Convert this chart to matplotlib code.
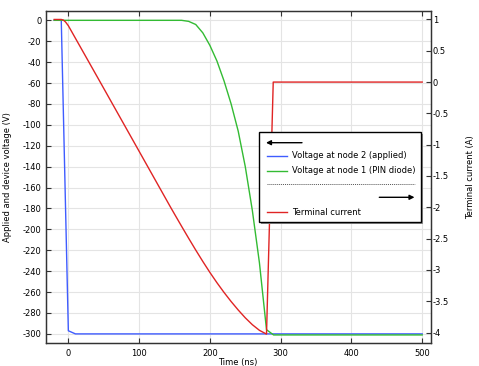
import matplotlib
matplotlib.use("Agg")
import matplotlib.pyplot as plt
from matplotlib.patches import Rectangle
from matplotlib.ticker import FuncFormatter

plt.rcParams['font.family'] = ['DejaVu Sans']
plt.rcParams['axes.unicode_minus'] = False

# ---- data ----
t_node2 = [-20, -10, 0, 10, 500]
v_node2 = [0, 0, -297, -300, -300]

t_node1 = [-20, 150, 160, 170, 180, 190, 200, 210, 220, 230, 240, 250, 260, 270, 280, 287, 290, 500]
v_node1 = [0, 0, 0, -1.0, -4.0, -12, -24, -39, -58, -80, -106, -140, -182, -232, -296, -299.5, -301, -301]

t_current = [-20, -10, -7, -4, 0, 5, 45, 99, 144, 150, 160, 170, 180, 190, 200,
             210, 220, 230, 240, 250, 260, 270, 280, 289.5, 500]
i_current = [1.0, 1.0, 0.99, 0.96, 0.90, 0.80, 0.0, -1.085, -1.99, -2.108, -2.303, -2.495, -2.683, -2.865, -3.04,
             -3.205, -3.36, -3.505, -3.64, -3.765, -3.875, -3.965, -4.025, 0.0, 0.0]

x_ticks = [0, 100, 200, 300, 400, 500]
left_ticks = list(range(-300, 1, 20))
right_ticks = [1, 0.5, 0, -0.5, -1, -1.5, -2, -2.5, -3, -3.5, -4]

legend_labels = ["Voltage at node 2 (applied)", "Voltage at node 1 (PIN diode)", "Terminal current"]

# ---- figure ----
W, H = 479, 366
fig = plt.figure(figsize=(W / 100, H / 100), dpi=100)
L, R, T, B = 45.7, 430.7, 10.7, 343.3
ax = fig.add_axes([L / W, 1 - B / H, (R - L) / W, (B - T) / H])

blue = '#3f5cff'
green = '#33bb33'
red = '#e02424'
spine_c = '#333333'
fs = 6.0

ax.plot(t_node2, v_node2, color=blue, lw=1.0)
ax.plot(t_node1, v_node1, color=green, lw=1.0)
ax.set_xlim(-32, 512)
ax.set_ylim(-309, 9.2)
ax.set_xticks(x_ticks)
ax.set_yticks(left_ticks)
ax.grid(True, color='#e4e4e4', lw=0.8)
ax.set_axisbelow(True)
ax.tick_params(direction='in', length=3.5, width=0.8, color=spine_c, labelsize=fs,
               top=True, right=False, pad=3)
ax.tick_params(axis='x', pad=4)
for s in ax.spines.values():
    s.set_color(spine_c)
    s.set_linewidth(0.9)
ax.set_xlabel("Time (ns)", fontsize=fs, labelpad=0)
ax.set_ylabel("Applied and device voltage (V)", fontsize=fs, labelpad=7.5)

ax2 = ax.twinx()
ax2.plot(t_current, i_current, color=red, lw=1.0)
ax2.set_ylim(-4.172, 1.14)
ax2.set_yticks(right_ticks)
ax2.yaxis.set_major_formatter(FuncFormatter(lambda v, p: "%g" % v))
ax2.tick_params(direction='in', length=3.5, width=0.8, color=spine_c, labelsize=fs, pad=1.5)
for s in ax2.spines.values():
    s.set_color(spine_c)
    s.set_linewidth(0.9)
ax2.set_ylabel("Terminal current (A)", fontsize=fs, labelpad=12)

# ---- legend overlay (pixel coordinates) ----
ov = fig.add_axes([0, 0, 1, 1], zorder=10)
ov.set_xlim(0, W)
ov.set_ylim(H, 0)
ov.axis('off')
bx0, bx1, by0, by1 = 259, 421, 132.3, 221.7
ov.add_patch(Rectangle((bx0 + 2, by0 + 2), bx1 - bx0, by1 - by0, facecolor='#8c8c8c', edgecolor='none'))
ov.add_patch(Rectangle((bx0, by0), bx1 - bx0, by1 - by0, facecolor='white', edgecolor='black', lw=1.0))
ov.annotate('', xy=(266, 142.7), xytext=(302, 142.7),
            arrowprops=dict(arrowstyle='-|>', color='black', lw=1.0, mutation_scale=7, shrinkA=0, shrinkB=0))
ov.annotate('', xy=(414.5, 197.3), xytext=(379.3, 197.3),
            arrowprops=dict(arrowstyle='-|>', color='black', lw=1.0, mutation_scale=7, shrinkA=0, shrinkB=0))
rows = [(155.7, blue, legend_labels[0]), (170.7, green, legend_labels[1]), (212.3, red, legend_labels[2])]
for y, c, lab in rows:
    ov.plot([266.7, 287.3], [y, y], color=c, lw=1.0)
    ov.text(291.7, y, lab, fontsize=fs, va='center', ha='left')
ov.plot([266.7, 415], [184, 184], color='#555555', lw=0.7, linestyle=(0, (1, 1)))

fig.savefig("out.png", dpi=100)
